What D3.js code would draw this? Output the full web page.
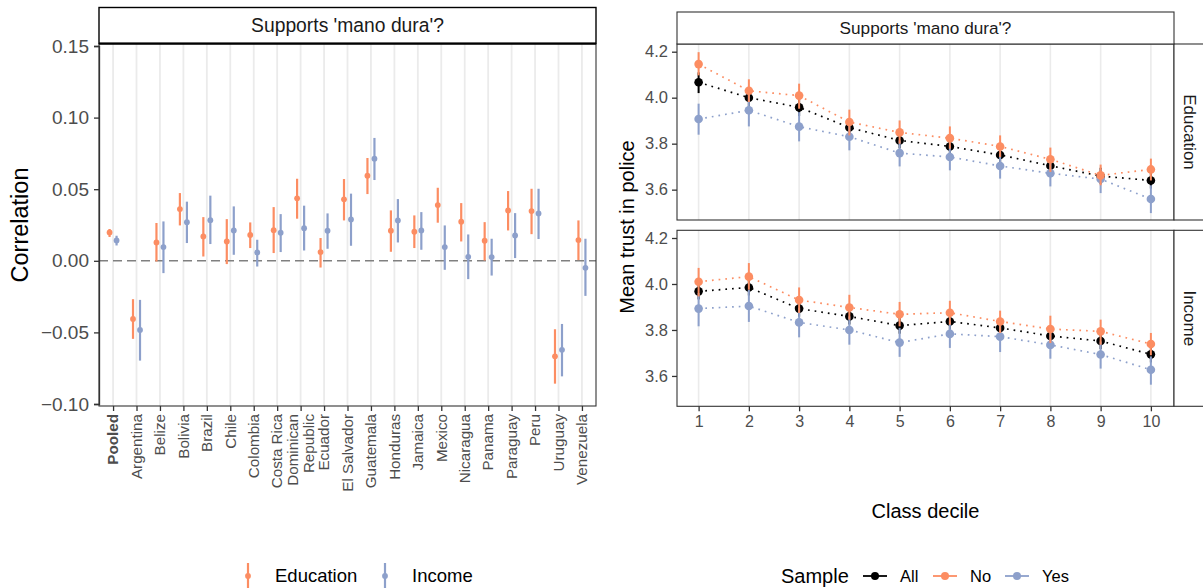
<!DOCTYPE html>
<html>
<head>
<meta charset="utf-8">
<script src="https://cdn.jsdelivr.net/npm/d3@7"></script>
<style>
  body { margin: 0; background: #fff; }
  svg { font-family: "Liberation Sans", Arial, sans-serif; }
</style>
</head>
<body>
<svg id="chart" width="1203" height="588"></svg>
<script>
// ---- left panel: correlations by country ----
const countries = ["Pooled", "Argentina", "Belize", "Bolivia", "Brazil", "Chile", "Colombia", "Costa Rica",
  "Dominican Republic", "Ecuador", "El Salvador", "Guatemala", "Honduras", "Jamaica", "Mexico",
  "Nicaragua", "Panama", "Paraguay", "Peru", "Uruguay", "Venezuela"];
const eduEst = [0.0198, -0.0406, 0.0128, 0.0361, 0.0170, 0.0135, 0.0180, 0.0214, 0.0436, 0.0061, 0.0429,
  0.0594, 0.0210, 0.0203, 0.0389, 0.0273, 0.0140, 0.0352, 0.0347, -0.0667, 0.0145];
const eduLo = [0.0166, -0.0545, -0.0005, 0.0247, 0.0030, -0.0023, 0.0089, 0.0054, 0.0294, -0.0047, 0.0282,
  0.0466, 0.0063, 0.0089, 0.0266, 0.0135, 0.0002, 0.0212, 0.0186, -0.0858, 0.0005];
const eduHi = [0.0222, -0.0268, 0.0264, 0.0473, 0.0305, 0.0291, 0.0268, 0.0375, 0.0573, 0.0159, 0.0571,
  0.0718, 0.0352, 0.0317, 0.0510, 0.0403, 0.0270, 0.0487, 0.0503, -0.0478, 0.0282];
const incEst = [0.0142, -0.0483, 0.0096, 0.0270, 0.0284, 0.0212, 0.0058, 0.0196, 0.0228, 0.0210, 0.0289,
  0.0713, 0.0282, 0.0212, 0.0096, 0.0028, 0.0026, 0.0177, 0.0331, -0.0622, -0.0049];
const incLo = [0.0107, -0.0697, -0.0086, 0.0124, 0.0117, 0.0042, -0.0040, 0.0061, 0.0072, 0.0084, 0.0105,
  0.0564, 0.0128, 0.0077, -0.0063, -0.0128, -0.0103, 0.0019, 0.0152, -0.0807, -0.0245];
const incHi = [0.0175, -0.0273, 0.0275, 0.0413, 0.0455, 0.0380, 0.0147, 0.0326, 0.0385, 0.0331, 0.0469,
  0.0858, 0.0431, 0.0340, 0.0247, 0.0184, 0.0154, 0.0333, 0.0503, -0.0441, 0.0154];
const corrTicks = [-0.10, -0.05, 0.00, 0.05, 0.10, 0.15];
const measures = ["Education", "Income"];

// ---- right panel: mean trust by class decile ----
const deciles = [1, 2, 3, 4, 5, 6, 7, 8, 9, 10];
const facets = ["Education", "Income"];
const samples = ["All", "No", "Yes"];
const trustTicks = [3.6, 3.8, 4.0, 4.2];

// Education facet
const eduAll = [4.067, 4.000, 3.958, 3.870, 3.814, 3.788, 3.751, 3.704, 3.659, 3.640];
const eduAllLo = [4.020, 3.960, 3.920, 3.830, 3.780, 3.750, 3.715, 3.670, 3.625, 3.605];
const eduAllHi = [4.110, 4.040, 4.000, 3.910, 3.850, 3.825, 3.787, 3.740, 3.695, 3.675];
const eduNo = [4.146, 4.030, 4.009, 3.894, 3.849, 3.824, 3.788, 3.732, 3.662, 3.688];
const eduNoLo = [4.097, 3.981, 3.952, 3.836, 3.800, 3.778, 3.742, 3.677, 3.619, 3.640];
const eduNoHi = [4.198, 4.080, 4.061, 3.948, 3.901, 3.875, 3.836, 3.783, 3.709, 3.735];
const eduYes = [3.907, 3.945, 3.874, 3.830, 3.759, 3.742, 3.703, 3.671, 3.646, 3.559];
const eduYesLo = [3.839, 3.875, 3.810, 3.771, 3.701, 3.684, 3.648, 3.614, 3.585, 3.498];
const eduYesHi = [3.974, 4.017, 3.937, 3.887, 3.814, 3.793, 3.757, 3.720, 3.691, 3.619];

// Income facet
const incAll = [3.968, 3.985, 3.893, 3.859, 3.819, 3.837, 3.809, 3.774, 3.752, 3.694];
const incAllLo = [3.933, 3.950, 3.858, 3.824, 3.784, 3.802, 3.774, 3.739, 3.717, 3.659];
const incAllHi = [4.003, 4.020, 3.928, 3.894, 3.854, 3.872, 3.844, 3.809, 3.787, 3.729];
const incNo = [4.010, 4.032, 3.930, 3.898, 3.868, 3.875, 3.837, 3.804, 3.794, 3.739];
const incNoLo = [3.946, 3.975, 3.874, 3.845, 3.816, 3.823, 3.787, 3.743, 3.736, 3.690];
const incNoHi = [4.070, 4.091, 3.985, 3.953, 3.922, 3.927, 3.884, 3.862, 3.845, 3.787];
const incYes = [3.893, 3.904, 3.833, 3.800, 3.745, 3.783, 3.771, 3.735, 3.693, 3.627];
const incYesLo = [3.816, 3.835, 3.768, 3.736, 3.683, 3.722, 3.704, 3.675, 3.632, 3.562];
const incYesHi = [3.961, 3.975, 3.896, 3.859, 3.809, 3.837, 3.830, 3.791, 3.750, 3.685];

const orange = "#FC8D62";
const blue = "#8DA0CB";
const sampleColor = d3.scaleOrdinal().domain(samples).range(["#000000", orange, blue]);
const measureColor = d3.scaleOrdinal().domain(measures).range([orange, blue]);

const svg = d3.select("#chart");
const gridCol = "#EBEBEB";
const axisTextCol = "#4D4D4D";
const borderCol = "#333333";

// =================== LEFT PANEL ===================
const L = { x0: 99, x1: 596, y0: 44, y1: 406 };

const xC = d3.scalePoint().domain(countries).range([L.x0, L.x1]).padding(0.6);
const dodge = d3.scalePoint().domain(measures).range([-3.5, 3.5]);
const yC = d3.scaleLinear().domain([-0.10, 0.15]).range([404, 46]);

const left = svg.append("g");

// grid
left.append("g").selectAll("line").data(countries).join("line")
  .attr("x1", d => xC(d)).attr("x2", d => xC(d))
  .attr("y1", L.y0).attr("y2", L.y1)
  .attr("stroke", gridCol).attr("stroke-width", 1.8);

// zero line
left.append("line")
  .attr("x1", L.x0).attr("x2", L.x1)
  .attr("y1", yC(0)).attr("y2", yC(0))
  .attr("stroke", "#808080").attr("stroke-width", 1.4)
  .attr("stroke-dasharray", "9,5");

const corrRows = [];
countries.forEach((c, i) => {
  corrRows.push({ c, m: "Education", est: eduEst[i], lo: eduLo[i], hi: eduHi[i] });
  corrRows.push({ c, m: "Income", est: incEst[i], lo: incLo[i], hi: incHi[i] });
});

const pr = left.append("g").selectAll("g").data(corrRows).join("g")
  .attr("transform", d => `translate(${xC(d.c) + dodge(d.m)},0)`);
pr.append("line")
  .attr("y1", d => yC(d.lo)).attr("y2", d => yC(d.hi))
  .attr("stroke", d => measureColor(d.m)).attr("stroke-width", 2.2);
pr.append("circle")
  .attr("cy", d => yC(d.est)).attr("r", 2.9)
  .attr("fill", d => measureColor(d.m));

// panel border
left.append("rect")
  .attr("x", L.x0).attr("y", L.y0).attr("width", L.x1 - L.x0).attr("height", L.y1 - L.y0)
  .attr("fill", "none").attr("stroke", borderCol).attr("stroke-width", 1.1);

// strip
left.append("rect")
  .attr("x", L.x0).attr("y", 7.5).attr("width", L.x1 - L.x0).attr("height", 36)
  .attr("fill", "#fff").attr("stroke", "#000").attr("stroke-width", 1.4);
left.append("line")
  .attr("x1", L.x0).attr("x2", L.x1).attr("y1", 43.5).attr("y2", 43.5)
  .attr("stroke", "#000").attr("stroke-width", 2.2);
left.append("text")
  .attr("x", (L.x0 + L.x1) / 2).attr("y", 25.5).attr("dy", "0.35em")
  .attr("text-anchor", "middle").attr("font-size", 19.3).attr("fill", "#1A1A1A")
  .text("Supports 'mano dura'?");

// y axis
const yAxisL = left.append("g").attr("transform", `translate(${L.x0},0)`)
  .call(d3.axisLeft(yC).tickValues(corrTicks).tickFormat(d3.format(".2f")).tickSize(5).tickPadding(5));
yAxisL.select(".domain").attr("stroke", borderCol).attr("stroke-width", 1.3);
yAxisL.selectAll(".tick line").attr("stroke", borderCol).attr("stroke-width", 1.3);
yAxisL.selectAll(".tick text").attr("font-size", 19).attr("fill", axisTextCol)
  .attr("font-family", "Liberation Sans, Arial, sans-serif");

// x axis
const xAxisL = left.append("g").attr("transform", `translate(0,${L.y1})`)
  .call(d3.axisBottom(xC).tickSize(5).tickFormat(""));
xAxisL.select(".domain").remove();
xAxisL.selectAll(".tick line").attr("stroke", borderCol).attr("stroke-width", 1.3);

const xlab = left.append("g").selectAll("text").data(countries).join("text")
  .attr("transform", d => `translate(${xC(d)},${L.y1 + 8}) rotate(-90)`)
  .attr("text-anchor", "end")
  .attr("font-size", 15.2).attr("fill", axisTextCol)
  .attr("font-weight", d => d === "Pooled" ? "bold" : null);
xlab.each(function (d) {
  const parts = d === "Dominican Republic" ? ["Dominican", "Republic"] : [d];
  const t = d3.select(this);
  parts.forEach((p, k) => {
    t.append("tspan").attr("x", 0)
      .attr("y", (k - (parts.length - 1) / 2) * 15.6)
      .attr("dy", "0.35em").text(p);
  });
});

// y title
left.append("text")
  .attr("transform", `translate(20,${(L.y0 + L.y1) / 2}) rotate(-90)`)
  .attr("text-anchor", "middle").attr("dy", "0.35em")
  .attr("font-size", 23.5).attr("fill", "#000").text("Correlation");

// left legend
const legL = left.append("g").attr("transform", "translate(0,576)");
const legLx = d3.scaleOrdinal().domain(measures).range([248, 385]);
const legItems = legL.selectAll("g").data(measures).join("g")
  .attr("transform", d => `translate(${legLx(d)},0)`);
legItems.append("line").attr("y1", -13).attr("y2", 13)
  .attr("stroke", d => measureColor(d)).attr("stroke-width", 2.2);
legItems.append("circle").attr("r", 2.9).attr("fill", d => measureColor(d));
legItems.append("text").attr("x", 27).attr("dy", "0.35em")
  .attr("font-size", 18.5).attr("fill", "#000").text(d => d);

// =================== RIGHT PANEL ===================
const R = { x0: 677, x1: 1174 };
const facetY = { Education: [44, 220], Income: [230.3, 406.3] };

const xR = d3.scaleLinear().domain([0.57, 10.46]).range([R.x0, R.x1]);

const trustData = {
  Education: {
    All: [eduAll, eduAllLo, eduAllHi], No: [eduNo, eduNoLo, eduNoHi], Yes: [eduYes, eduYesLo, eduYesHi]
  },
  Income: {
    All: [incAll, incAllLo, incAllHi], No: [incNo, incNoLo, incNoHi], Yes: [incYes, incYesLo, incYesHi]
  }
};

const right = svg.append("g");

facets.forEach(f => {
  const [ty, by] = facetY[f];
  const yR = d3.scaleLinear().domain([3.468, 4.2335]).range([by, ty]);
  const g = right.append("g");

  g.append("g").selectAll("line").data(deciles).join("line")
    .attr("x1", d => xR(d)).attr("x2", d => xR(d))
    .attr("y1", ty).attr("y2", by)
    .attr("stroke", gridCol).attr("stroke-width", 1.6);

  const line = d3.line().x((d, i) => xR(deciles[i])).y(d => yR(d));

  // dotted lines
  samples.forEach(s => {
    g.append("path").datum(trustData[f][s][0])
      .attr("d", line)
      .attr("fill", "none").attr("stroke", sampleColor(s))
      .attr("stroke-width", 1.7).attr("stroke-dasharray", "1.7,5");
  });

  // point ranges
  ["All", "Yes", "No"].forEach(s => {
    const [est, lo, hi] = trustData[f][s];
    const rows = deciles.map((d, i) => ({ d, est: est[i], lo: lo[i], hi: hi[i] }));
    const pg = g.append("g").selectAll("g").data(rows).join("g")
      .attr("transform", d => `translate(${xR(d.d)},0)`);
    pg.append("line").attr("y1", d => yR(d.lo)).attr("y2", d => yR(d.hi))
      .attr("stroke", sampleColor(s)).attr("stroke-width", 2);
    pg.append("circle").attr("cy", d => yR(d.est)).attr("r", 4.3)
      .attr("fill", sampleColor(s));
  });

  // panel border
  g.append("rect")
    .attr("x", R.x0).attr("y", ty).attr("width", R.x1 - R.x0).attr("height", by - ty)
    .attr("fill", "none").attr("stroke", borderCol).attr("stroke-width", 1.1);

  // side strip
  g.append("rect")
    .attr("x", R.x1).attr("y", ty).attr("width", 40).attr("height", by - ty)
    .attr("fill", "#fff").attr("stroke", borderCol).attr("stroke-width", 1.1);
  g.append("text")
    .attr("transform", `translate(1190,${(ty + by) / 2}) rotate(90)`)
    .attr("text-anchor", "middle").attr("dy", "0.35em")
    .attr("font-size", 17).attr("fill", "#1A1A1A").text(f);

  // y axis
  const ya = g.append("g").attr("transform", `translate(${R.x0},0)`)
    .call(d3.axisLeft(yR).tickValues(trustTicks).tickFormat(d3.format(".1f")).tickSize(5).tickPadding(4));
  ya.select(".domain").remove();
  ya.selectAll(".tick line").attr("stroke", borderCol).attr("stroke-width", 1.3);
  ya.selectAll(".tick text").attr("font-size", 16.5).attr("fill", axisTextCol)
    .attr("font-family", "Liberation Sans, Arial, sans-serif");
});

// top strip (right)
right.append("rect")
  .attr("x", R.x0).attr("y", 12).attr("width", R.x1 - R.x0).attr("height", 32)
  .attr("fill", "#fff").attr("stroke", borderCol).attr("stroke-width", 1.1);
right.append("text")
  .attr("x", (R.x0 + R.x1) / 2).attr("y", 28).attr("dy", "0.35em")
  .attr("text-anchor", "middle").attr("font-size", 17.2).attr("fill", "#1A1A1A")
  .text("Supports 'mano dura'?");

// x axis (right, bottom facet)
const xa = right.append("g").attr("transform", `translate(0,${facetY.Income[1]})`)
  .call(d3.axisBottom(xR).tickValues(deciles).tickFormat(d3.format("d")).tickSize(5).tickPadding(4));
xa.select(".domain").remove();
xa.selectAll(".tick line").attr("stroke", borderCol).attr("stroke-width", 1.3);
xa.selectAll(".tick text").attr("font-size", 16).attr("fill", axisTextCol)
  .attr("font-family", "Liberation Sans, Arial, sans-serif");

// titles
right.append("text")
  .attr("transform", `translate(627,227) rotate(-90)`)
  .attr("text-anchor", "middle").attr("dy", "0.35em")
  .attr("font-size", 20).attr("fill", "#000").text("Mean trust in police");
right.append("text")
  .attr("x", (R.x0 + R.x1) / 2).attr("y", 511).attr("dy", "0.35em")
  .attr("text-anchor", "middle").attr("font-size", 20).attr("fill", "#000").text("Class decile");

// right legend
const legR = right.append("g").attr("transform", "translate(0,576)");
legR.append("text").attr("x", 781).attr("dy", "0.35em")
  .attr("font-size", 20).attr("fill", "#000").text("Sample");
const legRx = d3.scaleOrdinal().domain(samples).range([875, 945, 1017]);
const ri = legR.selectAll("g.item").data(samples).join("g").attr("class", "item")
  .attr("transform", d => `translate(${legRx(d)},0)`);
ri.append("line").attr("x1", -12).attr("x2", 12)
  .attr("stroke", d => sampleColor(d)).attr("stroke-width", 1.8);
ri.append("circle").attr("r", 4).attr("fill", d => sampleColor(d));
ri.append("text").attr("x", 25).attr("dy", "0.35em")
  .attr("font-size", 16.5).attr("fill", "#000").text(d => d);
</script>
</body>
</html>
